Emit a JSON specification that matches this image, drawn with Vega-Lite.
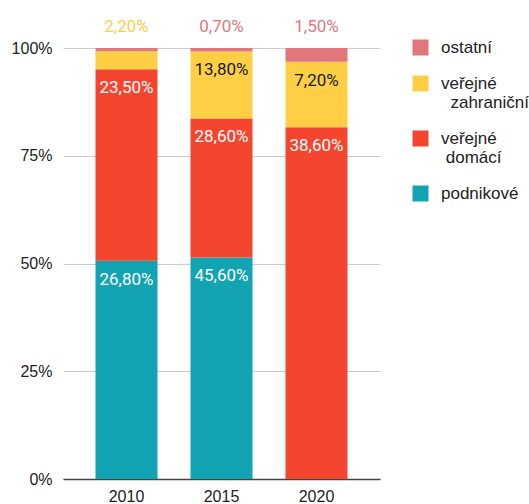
{
  "$schema": "https://vega.github.io/schema/vega-lite/v6.json",
  "width": 317,
  "height": 431,
  "autosize": "none",
  "padding": {"left": 63, "top": 48, "right": 149, "bottom": 25},
  "config": {
    "view": {"stroke": null},
    "font": "Liberation Sans",
    "locale": {"number": {"decimal": ",", "thousands": " ", "grouping": [3], "currency": ["", " Kč"]}}
  },
  "data": {"values": [
    {"rok": "2010", "zdroj": "podnikové", "poradi": 1, "podil": 0.268},
    {"rok": "2010", "zdroj": "veřejné domácí", "poradi": 2, "podil": 0.235},
    {"rok": "2010", "zdroj": "veřejné zahraniční", "poradi": 3, "podil": 0.022},
    {"rok": "2010", "zdroj": "ostatní", "poradi": 4, "podil": 0.004},
    {"rok": "2015", "zdroj": "podnikové", "poradi": 1, "podil": 0.456},
    {"rok": "2015", "zdroj": "veřejné domácí", "poradi": 2, "podil": 0.286},
    {"rok": "2015", "zdroj": "veřejné zahraniční", "poradi": 3, "podil": 0.138},
    {"rok": "2015", "zdroj": "ostatní", "poradi": 4, "podil": 0.007},
    {"rok": "2020", "zdroj": "podnikové", "poradi": 1, "podil": 0.0},
    {"rok": "2020", "zdroj": "veřejné domácí", "poradi": 2, "podil": 0.386},
    {"rok": "2020", "zdroj": "veřejné zahraniční", "poradi": 3, "podil": 0.072},
    {"rok": "2020", "zdroj": "ostatní", "poradi": 4, "podil": 0.015}
  ]},
  "transform": [
    {"stack": "podil", "groupby": ["rok"], "sort": [{"field": "poradi", "order": "ascending"}], "offset": "normalize", "as": ["y0", "y1"]}
  ],
  "encoding": {
    "x": {
      "field": "rok", "type": "nominal", "title": null,
      "scale": {"paddingInner": 0.347, "paddingOuter": 0.342},
      "axis": {"labelAngle": 0, "ticks": false, "domainColor": "#444", "domainWidth": 1.5, "labelFontSize": 16, "labelColor": "#222", "labelPadding": 9, "grid": false}
    }
  },
  "layer": [
    {
      "mark": {"type": "bar"},
      "encoding": {
        "y": {
          "field": "y0", "type": "quantitative", "title": null,
          "scale": {"domain": [0, 1], "nice": false},
          "axis": {"values": [0, 0.25, 0.5, 0.75, 1], "format": ".0%", "domain": false, "ticks": false, "gridColor": "#cccccc", "labelFontSize": 16, "labelColor": "#222", "labelPadding": 11}
        },
        "y2": {"field": "y1"},
        "color": {
          "field": "zdroj", "type": "nominal",
          "scale": {"domain": ["ostatní", "veřejné zahraniční", "veřejné domácí", "podnikové"], "range": ["#e1767b", "#fecf45", "#f4452f", "#12a4b2"]},
          "legend": {
            "title": null, "orient": "none", "legendX": 349, "legendY": -9,
            "symbolType": "square", "symbolSize": 256, "symbolStrokeWidth": 0,
            "labelFontSize": 17, "labelColor": "#222", "labelOffset": 12, "rowPadding": 18,
            "labelLineHeight": 19, "labelLimit": 200,
            "labelExpr": "datum.label == 'veřejné zahraniční' ? ['veřejné', '\u200b\u00a0\u00a0zahraniční'] : datum.label == 'veřejné domácí' ? ['veřejné', '\u200b\u00a0domácí'] : datum.label"
          }
        }
      }
    },
    {
      "transform": [{"filter": "datum.podil >= 0.05"}],
      "mark": {"type": "text", "font": "Roboto", "fontSize": 17, "baseline": "middle", "dy": 19},
      "encoding": {
        "y": {"field": "y1", "type": "quantitative"},
        "text": {"field": "podil", "type": "quantitative", "format": ".2%"},
        "color": {"condition": {"test": "datum.zdroj == 'veřejné zahraniční'", "value": "#1a1a1a"}, "value": "white"}
      }
    },
    {
      "transform": [{"filter": "datum.podil < 0.05 && datum.podil >= 0.007"}],
      "mark": {"type": "text", "font": "Roboto", "fontSize": 17, "baseline": "middle", "dy": -21},
      "encoding": {
        "y": {"datum": 1, "type": "quantitative"},
        "text": {"field": "podil", "type": "quantitative", "format": ".2%"},
        "color": {"field": "zdroj", "type": "nominal", "legend": null}
      }
    }
  ]
}
